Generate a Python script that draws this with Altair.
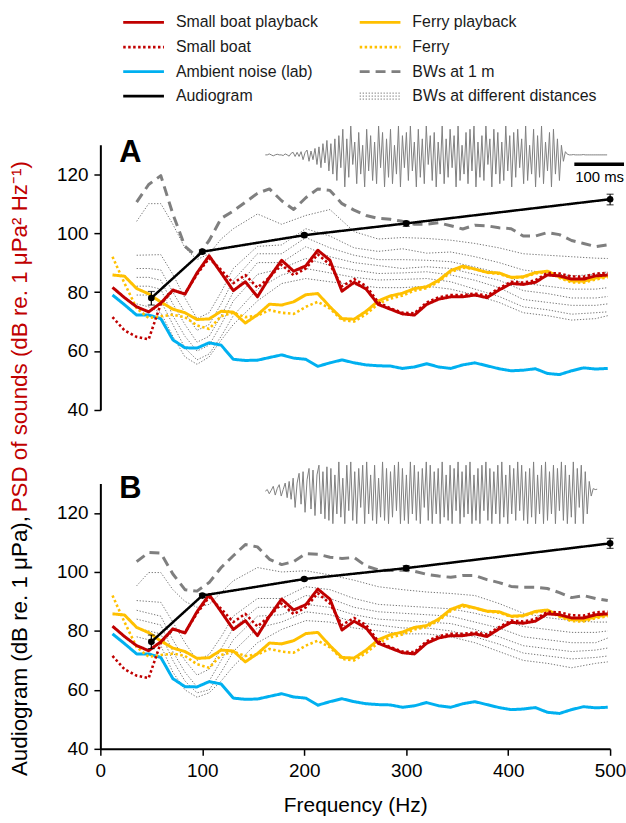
import altair as alt
import pandas as pd

FONT = "Liberation Sans"

# ---------------- data ----------------
freq = [11.9, 23.7, 35.6, 47.4, 59.3, 71.1, 83.0, 94.8, 106.7, 118.5, 130.4, 142.2, 154.1, 165.9,
        177.8, 189.6, 201.5, 213.3, 225.2, 237.0, 248.9, 260.7, 272.6, 284.4, 296.3, 308.1, 320.0,
        331.8, 343.7, 355.5, 367.4, 379.2, 391.1, 402.9, 414.8, 426.6, 438.5, 450.3, 462.2, 474.0,
        485.9, 497.7]

small_boat_playback = [81.6, 78.1, 75.0, 73.3, 76.3, 80.7, 79.3, 86.5, 92.3, 86.5, 80.5, 83.5, 78.4, 85.0,
                       90.8, 87.1, 88.9, 94.2, 90.8, 80.3, 83.3, 81.0, 75.8, 74.2, 72.6, 72.2, 75.8, 77.6,
                       78.4, 78.4, 79.0, 78.1, 80.7, 82.9, 82.6, 83.3, 85.8, 85.5, 84.4, 84.4, 85.5, 85.8]
small_boat = [71.5, 67.0, 64.8, 64.0, 76.0, 80.5, 79.5, 86.0, 91.5, 87.5, 83.0, 85.8, 81.5, 85.0,
              89.3, 85.7, 88.0, 92.8, 89.3, 82.0, 84.4, 82.0, 76.5, 74.5, 73.0, 72.8, 76.5, 78.2,
              79.0, 79.0, 79.5, 78.8, 81.3, 83.5, 83.2, 84.0, 86.5, 86.3, 85.3, 85.2, 86.3, 86.5]
ferry_playback = [85.8, 85.4, 81.2, 79.4, 76.6, 74.2, 73.0, 70.7, 70.9, 73.5, 73.2, 69.5, 72.3, 75.9,
                  75.6, 76.7, 79.1, 79.5, 75.0, 71.0, 70.8, 73.5, 77.0, 78.7, 79.6, 81.2, 81.8, 84.0,
                  87.3, 88.8, 87.8, 86.7, 86.5, 85.0, 85.2, 86.6, 87.1, 85.2, 83.8, 83.7, 84.8, 85.5]
ferry = [92.0, 83.0, 74.5, 71.2, 71.8, 72.3, 71.5, 68.7, 67.5, 71.8, 73.0, 71.5, 72.0, 73.9,
         73.0, 72.6, 75.0, 76.7, 74.4, 70.5, 70.0, 72.5, 76.0, 77.8, 78.8, 80.5, 81.3, 83.5,
         86.8, 88.3, 87.8, 86.6, 86.2, 84.8, 85.0, 86.3, 86.8, 84.8, 83.3, 83.2, 84.3, 85.0]
ambient_noise = [79.0, 75.7, 72.2, 72.2, 71.0, 63.8, 61.1, 61.0, 62.8, 62.0, 57.2, 56.8, 56.9, 57.8,
                 58.7, 57.6, 57.2, 54.8, 56.0, 57.0, 56.0, 55.3, 55.0, 54.9, 54.1, 54.6, 55.7, 54.6,
                 54.1, 55.3, 56.0, 55.0, 54.0, 53.3, 53.5, 54.0, 52.4, 52.0, 53.3, 54.3, 53.9, 54.1]

bw_1m_freq = freq[2:]
bw_1m_A = [110.5, 116.5, 119.5, 106.5, 95.5, 92.0, 97.5, 105.0, 107.5, 110.5, 113.5, 115.0, 111.0, 108.0,
           112.0, 115.0, 114.5, 110.0, 107.8, 106.0, 105.0, 104.7, 104.0, 103.0, 103.0, 103.5, 102.5,
           101.4, 102.7, 102.5, 101.8, 101.5, 99.0, 99.0, 100.2, 99.5, 97.5, 96.5, 95.4, 96.0]
bw_1m_B = [103.5, 106.6, 106.4, 99.3, 94.0, 93.5, 96.4, 101.5, 105.5, 109.3, 108.5, 104.3, 102.5, 103.5,
           106.2, 106.0, 105.0, 104.6, 104.9, 102.0, 100.7, 100.5, 100.6, 100.2, 99.2, 98.6, 98.2,
           98.8, 98.8, 97.4, 96.4, 95.1, 94.8, 94.8, 94.4, 93.0, 91.3, 92.0, 91.0, 90.3]

bw_dist_freq = [35.6, 47.4, 59.3, 71.1, 83.0, 94.8, 106.7, 118.5, 130.4, 154.1, 177.8, 201.5, 225.2,
                248.9, 272.6, 296.3, 320.0, 343.7, 367.4, 391.1, 414.8, 438.5, 462.2, 485.9, 497.7]
bw_dist_A = [
    [104, 110, 110, 103, 95, 91, 93, 98, 101.5, 106.5, 103, 106, 108, 100.5, 98, 98.5, 98.2, 97.6, 96.5, 95, 93, 92.5, 92, 91.5, 91.4],
    [92.5, 92.6, 92.7, 86, 78, 71, 73, 80, 88, 95.5, 96, 101.5, 99, 95, 93.8, 94.7, 93.2, 93.6, 92, 90, 87.5, 86.5, 85.5, 86, 86.9],
    [88, 88, 87.5, 80, 73, 67, 69, 76, 84, 93, 93, 98.5, 95, 92.5, 91, 91, 90.8, 90.3, 88.5, 86.5, 83, 82, 81, 81, 81.5],
    [85, 85, 84, 76, 69, 63, 65, 72, 80, 90, 90, 95.4, 92, 90, 89, 88, 88.6, 88, 86, 84, 80.5, 79.5, 78, 78, 78.5],
    [82, 82, 81, 72, 65, 60, 62, 69, 77, 86, 88, 91.4, 89, 87.5, 86.3, 86.5, 86.9, 85.8, 84, 81.5, 77.5, 76.5, 75.5, 75.5, 76],
    [79, 79, 77, 69, 61, 57, 59, 65, 72, 81, 85.8, 88, 86.5, 85, 84.1, 84.3, 84.6, 83.5, 81, 78.5, 75, 74, 72.5, 73, 73.3],
    [76, 75, 73, 65, 58, 55.5, 58, 63.7, 69, 77, 82.9, 84.6, 83.5, 82.5, 81.5, 81.5, 82, 81, 79, 76.5, 73, 72, 70.5, 71, 72],
]
bw_dist_B = [
    [95.3, 99.8, 99.8, 94, 90, 88, 89, 93, 97, 101.5, 100, 100.4, 99, 97.2, 95, 94, 93.2, 92.7, 92, 89.3, 86, 84.5, 83.5, 83, 83],
    [90.3, 90, 89.7, 83, 76, 70, 72, 78, 85, 91, 91, 95, 94, 91, 89, 88.5, 88, 87.5, 86, 84, 81.5, 80.5, 79.5, 79.5, 80],
    [87, 86, 85, 77, 70, 65, 67, 74, 81, 88, 88, 92, 91, 88, 86.5, 86, 85.5, 85, 83, 81, 78, 77, 76, 76, 77.6],
    [84, 83, 82, 73, 66, 61, 63, 70, 77, 85, 85.5, 89, 88, 85.5, 84, 83.5, 83, 82.5, 80.5, 78, 75, 74, 73, 73.5, 74.2],
    [81, 80, 79, 70, 63, 59, 60, 66, 73, 81, 83, 86.5, 85.5, 83, 82, 81, 81, 80, 78, 75.5, 72.5, 71.5, 70.5, 71, 71.5],
    [78, 77, 75, 66, 60, 57.5, 59, 63, 68, 76, 80.5, 83.5, 83, 81, 80, 79, 79, 78, 76, 73, 70, 69, 67.5, 69, 69.5],
]

aud_freq = [50, 100, 200, 300, 500]
aud_A = [78.0, 93.7, 99.3, 103.3, 111.5]
aud_A_lo = [75.6, 93.1, 98.7, 102.3, 109.6]
aud_A_hi = [80.2, 94.3, 99.9, 104.0, 113.2]
aud_B = [76.3, 92.0, 97.6, 101.3, 109.7]
aud_B_lo = [74.0, 91.4, 97.1, 100.5, 108.0]
aud_B_hi = [78.6, 92.6, 98.1, 102.1, 111.4]

# oscillograms (relative amplitude), one sample every 4 ms
wave_A = [0, 0, 0.3, 0, -0.3, 0, 0.2, 0, 0, -0.2, 0.3, 0, -0.4, 0.5, 0.8, -0.5,
          0.8, -0.5, 1, -1.5, 0.7, 1.5, -2, 1.2, -1.5, 2,
          -3, 2.5, -4, 3.5, -2.5, 4.5, -5, 3.5, -6, 5,
          -8, 6, -4, 8, -10, 5, -7, 9, -3, 4, -9, 7, -6, 3, -10, 8, -5, 6, -8, 4,
          -9, 9, -4, 7, -10, 5, -7, 8, -9, 3, -6, 9, -10, 6, -4, 7, -8, 9, -5, 4,
          -10, 8, -7, 5, -9, 9, -3, 6, -8, 7, -10, 4, -6, 9, -9, 5, -7, 8, -4, 6,
          -10, 9, -8, 3, -6, 7, -9, 8, -5, 9, -10, 4, -7, 6, -8, 9, -3, 5, -10, 8,
          -6, 7, -9, 4, -8, 9, -5, 6, -10, 7, -7, 8, -4, 5, -9, 9, -8, 3, -6, 8,
          -10, 6, -7, 9, -9, 4, -5, 7, -10, 8, -6, 5, -8,
          3, -2, 1,
          0.2, 0, 0, 0.1, 0, 0, 0, 0, 0.1, 0, 0, 0, 0, 0, 0, 0, 0, 0, 0, 0, 0]
wave_B = [0, 0.5, -0.8, 0.3, 1.5, -1.2, 0.8, 2, -1.5, 0.5, 2.5, -2,
          3, -2.5, 4, -5, 2.5, 5.5, -4, 6, -6.5, 3.5, 7, -5.5, 6.5, -7.5, 5, 8, -7, 6, -8.5, 7.5,
          -9, 7, -10, 5, -7, 9, -8, 4, -10, 8, -6, 9, -9, 6, -10, 7, -5, 8, -10, 9,
          -7, 5, -9, 8, -10, 4, -8, 9, -9, 7, -10, 6, -8, 8, -6, 9, -10, 7, -9, 5,
          -10, 9, -7, 8, -9, 6, -10, 7, -5, 9, -9, 8, -10, 6, -7, 7, -10, 9, -8, 5,
          -9, 8, -10, 7, -6, 9, -10, 6, -8, 8, -7, 9, -10, 5, -9, 7, -10, 8, -6, 9,
          -9, 7, -10, 6, -7, 8, -10, 9, -8, 5, -10, 8, -7, 7, -9, 9, -6, 8, -9, 6,
          -10, 7, -8, 9, -10, 5, -7, 8, -10, 9, -9, 6, -7, 8, -10, 7, -6, 9, -9, 8,
          -10, 5, -8, 9, -10, 7, -5, 8, -10, 6, -7,
          3, -1.5,
          0.8, 0.5, 0.6]
WAVE_DT_MS = 4
scale_bar_ms = [622, 722]

SERIES = ["Small boat playback", "Small boat", "Ambient noise (lab)", "Audiogram",
          "Ferry playback", "Ferry", "BWs at 1 m", "BWs at different distances"]
COLORS = ["#C00000", "#C00000", "#00B0F0", "#000000", "#FFC000", "#FFC000", "#7F7F7F", "#757575"]
DASHES = [[1, 0], [2.5, 2.5], [1, 0], [1, 0], [1, 0], [2.5, 2.5], [10, 6], [1.3, 1.7]]

# ---------------- layout ----------------
W, H = 513, 267
LEG_H = 68.6          # height reserved for the legend block above panel A
GAP = 74              # gap between stacked blocks
LEG_COL_X = [23, 261]  # legend column left edges (px from plot left)
LEG_SYM = 41
LEG_TXT = 12
LEG_ROW_Y = [20, 44.7, 69.4, 94.1]

x_scale = alt.Scale(domain=[0, 500], nice=False, zero=False)
y_scale = alt.Scale(domain=[40, 130], nice=False, zero=False)
color_scale = alt.Scale(domain=SERIES, range=COLORS)
dash_scale = alt.Scale(domain=SERIES, range=DASHES)
y_axis = alt.Axis(values=[40, 60, 80, 100, 120], title=None)

# ---------------- legend block ----------------
leg_rows = []
for i, s in enumerate(SERIES):
    col, row = divmod(i, 4)
    x0 = LEG_COL_X[col]
    offs = [-3, 0, 3] if s == "BWs at different distances" else [0]
    for j, d in enumerate(offs):
        leg_rows.append({"series": s, "line": f"{s}-{j}", "x0": x0, "x1": x0 + LEG_SYM,
                         "xt": x0 + LEG_SYM + LEG_TXT, "y": LEG_ROW_Y[row] + d,
                         "yt": LEG_ROW_Y[row], "thin": s == "BWs at different distances",
                         "first": j == 0})
leg_df = pd.DataFrame(leg_rows)
lx = alt.Scale(domain=[0, W], range=[0, W], nice=False, zero=False)
ly = alt.Scale(domain=[0, LEG_H], range=[0, LEG_H], nice=False, zero=False)


def leg_sym(thin, width):
    return alt.Chart(leg_df).transform_filter(alt.datum.thin == thin).mark_rule(
        strokeWidth=width).encode(
        x=alt.X("x0:Q", scale=lx, axis=None), x2="x1:Q",
        y=alt.Y("y:Q", scale=ly, axis=None),
        color=alt.Color("series:N", scale=color_scale, legend=None),
        strokeDash=alt.StrokeDash("series:N", scale=dash_scale, legend=None))


leg_text = alt.Chart(leg_df).transform_filter(alt.datum.first).mark_text(
    font=FONT, fontSize=16, align="left", baseline="middle", color="#1a1a1a").encode(
    x=alt.X("xt:Q", scale=lx, axis=None), y=alt.Y("yt:Q", scale=ly, axis=None), text="series:N")
legend_block = alt.layer(leg_sym(False, 2.8), leg_sym(True, 1), leg_text).properties(
    width=W, height=LEG_H)


# ---------------- panels ----------------
def series_df(name, xs, ys, line_id=None):
    return pd.DataFrame({"freq": xs, "value": ys, "series": name,
                         "line": line_id if line_id else name})


def line_layer(df, width, x_axis):
    return alt.Chart(df).mark_line(strokeWidth=width, strokeJoin="round").encode(
        x=alt.X("freq:Q", scale=x_scale, axis=x_axis),
        y=alt.Y("value:Q", scale=y_scale, axis=y_axis),
        color=alt.Color("series:N", scale=color_scale, legend=None),
        strokeDash=alt.StrokeDash("series:N", scale=dash_scale, legend=None),
        detail="line:N",
    )


def panel(letter, bw1m, bwd, aud, lo, hi, wave, wave_y_range, letter_y, show_x, show_bar, extra=()):
    x_axis = alt.Axis(values=[0, 100, 200, 300, 400, 500], title="Frequency (Hz)",
                      titlePadding=15) if show_x else None
    dotted = pd.concat([series_df("BWs at different distances", bw_dist_freq, v, f"d{i}")
                        for i, v in enumerate(bwd)])
    layers = [
        line_layer(dotted, 1, x_axis),
        line_layer(series_df("BWs at 1 m", bw_1m_freq, bw1m), 3, x_axis),
        line_layer(series_df("Ambient noise (lab)", freq, ambient_noise), 3, x_axis),
        line_layer(series_df("Ferry", freq, ferry), 2.6, x_axis),
        line_layer(series_df("Ferry playback", freq, ferry_playback), 3, x_axis),
        line_layer(series_df("Small boat", freq, small_boat), 2.6, x_axis),
        line_layer(series_df("Small boat playback", freq, small_boat_playback), 3, x_axis),
        line_layer(series_df("Audiogram", aud_freq, aud), 2.5, x_axis),
    ]
    adf = pd.DataFrame({"freq": aud_freq, "value": aud, "lo": lo, "hi": hi})
    base = alt.Chart(adf)
    layers += [
        base.mark_rule(color="black", strokeWidth=1.2).encode(
            x=alt.X("freq:Q", scale=x_scale, axis=x_axis),
            y=alt.Y("lo:Q", scale=y_scale, axis=y_axis), y2="hi:Q"),
        base.mark_tick(color="black", orient="horizontal", size=7, thickness=1.2).encode(
            x=alt.X("freq:Q", scale=x_scale, axis=x_axis),
            y=alt.Y("lo:Q", scale=y_scale, axis=y_axis)),
        base.mark_tick(color="black", orient="horizontal", size=7, thickness=1.2).encode(
            x=alt.X("freq:Q", scale=x_scale, axis=x_axis),
            y=alt.Y("hi:Q", scale=y_scale, axis=y_axis)),
        base.mark_point(filled=True, color="black", size=45, opacity=1).encode(
            x=alt.X("freq:Q", scale=x_scale, axis=x_axis),
            y=alt.Y("value:Q", scale=y_scale, axis=y_axis)),
        alt.Chart(pd.DataFrame({"t": [letter]})).mark_text(
            font=FONT, fontSize=31, fontWeight="bold", align="left", baseline="alphabetic",
            color="black").encode(text="t:N", x=alt.value(19), y=alt.value(letter_y)),
    ]
    layers += list(extra)
    main = alt.layer(*layers)

    wx = alt.Scale(domain=[0, 720], range=[166, 526], nice=False, zero=False)
    wy = alt.Scale(domain=[-10, 10], range=wave_y_range, nice=False, zero=False)
    wdf = pd.DataFrame({"t": [i * WAVE_DT_MS for i in range(len(wave))], "amp": wave})
    wlayers = [alt.Chart(wdf).mark_line(color="#808080", strokeWidth=1).encode(
        x=alt.X("t:Q", scale=wx, axis=None), y=alt.Y("amp:Q", scale=wy, axis=None))]
    if show_bar:
        bdf = pd.DataFrame({"t0": [scale_bar_ms[0]], "t1": [scale_bar_ms[1]], "a": [-2.9],
                            "ta": [-8.6], "label": ["100 ms"]})
        wlayers.append(alt.Chart(bdf).mark_rule(color="black", strokeWidth=3.5).encode(
            x=alt.X("t0:Q", scale=wx, axis=None), x2="t1:Q",
            y=alt.Y("a:Q", scale=wy, axis=None)))
        wlayers.append(alt.Chart(bdf).mark_text(font=FONT, fontSize=15, align="right",
                                                baseline="alphabetic", color="black").encode(
            x=alt.X("t1:Q", scale=wx, axis=None), y=alt.Y("ta:Q", scale=wy, axis=None),
            text="label:N"))
    wave_layer = alt.layer(*wlayers)
    return alt.layer(main, wave_layer).resolve_scale(x="independent", y="independent").properties(
        width=W, height=H)


TITLE_SIZE = 22.5
title_black = alt.Chart(pd.DataFrame({"t": ["Audiogram (dB re. 1 \u03bcPa), "]})).mark_text(
    font=FONT, fontSize=TITLE_SIZE, angle=270, align="left", baseline="middle", color="black").encode(
    text="t:N", x=alt.value(-81), y=alt.value(294.4))
title_red = alt.Chart(pd.DataFrame({"t": ["PSD of sounds (dB re. 1 \u03bcPa\u00b2 Hz\u207b\u00b9)"]})).mark_text(
    font=FONT, fontSize=TITLE_SIZE, angle=270, align="left", baseline="middle", color="#C00000").encode(
    text="t:N", x=alt.value(-81), y=alt.value(29))

panel_A = panel("A", bw_1m_A, bw_dist_A, aud_A, aud_A_lo, aud_A_hi, wave_A, [42.5, -22.0],
                17.4, False, True)
panel_B = panel("B", bw_1m_B, bw_dist_B, aud_B, aud_B_lo, aud_B_hi, wave_B, [40.4, -25.0],
                14.4, True, False, extra=(title_black, title_red))

chart = alt.vconcat(legend_block, panel_A, panel_B, spacing=GAP, bounds="flush").resolve_scale(
    x="independent", y="independent").properties(
    padding={"left": 8, "top": 0, "right": 0, "bottom": 0}
).configure_view(stroke=None).configure_axis(
    domainColor="black", domainWidth=2, tickColor="black", tickWidth=1.5, tickSize=6.5,
    labelFont=FONT, labelFontSize=19, labelColor="black", labelPadding=6, labelFlush=False,
    titleFont=FONT, titleFontSize=21, titleFontWeight="normal", titleColor="black", grid=False
)

chart.save("out.html", embed_options={"renderer": "svg", "actions": False})
